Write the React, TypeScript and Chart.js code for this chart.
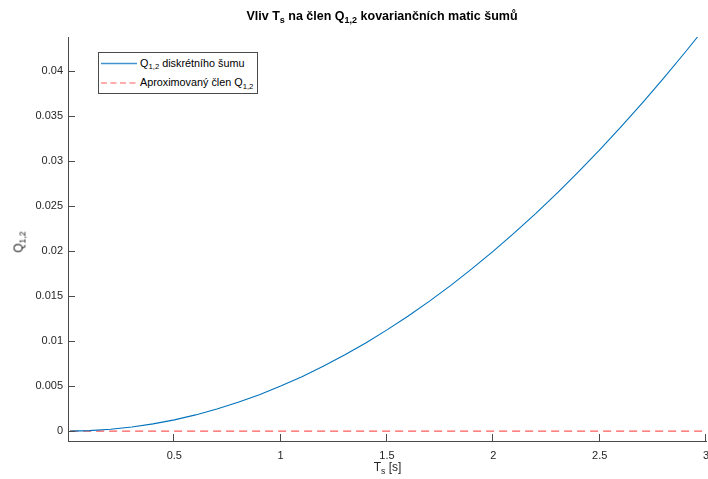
import React, { useEffect, useRef } from 'react';
import { Chart, registerables } from 'chart.js';

Chart.register(...registerables);

// ---- data ----
const tsValues = [
  0.01, 0.1, 0.2, 0.3, 0.4, 0.5, 0.6, 0.7, 0.8, 0.9, 1.0,
  1.1, 1.2, 1.3, 1.4, 1.5, 1.6, 1.7, 1.8, 1.9, 2.0,
  2.1, 2.2, 2.3, 2.4, 2.5, 2.6, 2.7, 2.8, 2.9, 2.96,
];
const q12Values = [
  0.0000005, 0.00005, 0.0002, 0.00045, 0.0008, 0.00125, 0.0018, 0.00245, 0.0032, 0.00405, 0.005,
  0.00605, 0.0072, 0.00845, 0.0098, 0.01125, 0.0128, 0.01445, 0.0162, 0.01805, 0.02,
  0.02205, 0.0242, 0.02645, 0.0288, 0.03125, 0.0338, 0.03645, 0.0392, 0.04205, 0.0438,
];
const approxTs = [0.01, 3];
const approxValues = [0, 0];

const xTickValues = [0.5, 1, 1.5, 2, 2.5, 3];
const xTickLabels = ['0.5', '1', '1.5', '2', '2.5', '3'];
const yTickValues = [0, 0.005, 0.01, 0.015, 0.02, 0.025, 0.03, 0.035, 0.04];
const yTickLabels = ['0', '0.005', '0.01', '0.015', '0.02', '0.025', '0.03', '0.035', '0.04'];

const seriesLabels = ['Q1,2 diskrétního šumu', 'Aproximovaný člen Q1,2'];

const X_MIN = 0;
const X_MAX = 3;
const Y_MIN = -0.0011;
const Y_MAX = 0.0438;

const FONT = '"Liberation Sans", Arial, Helvetica, sans-serif';
const AXIS_COLOR = '#4a4a4a';
const TEXT_COLOR = '#262626';
const BLUE = '#0072BD';
const RED = '#ff5a5a';

const inwardTicks = {
  id: 'inwardTicks',
  afterDraw(chart: any) {
    const { ctx, chartArea, scales } = chart;
    ctx.save();
    ctx.strokeStyle = AXIS_COLOR;
    ctx.lineWidth = 1;
    ctx.beginPath();
    for (const v of xTickValues) {
      const px = Math.round(scales.x.getPixelForValue(v)) - 0.5;
      ctx.moveTo(px, chartArea.bottom);
      ctx.lineTo(px, chartArea.bottom - 7);
    }
    for (const v of yTickValues) {
      const py = Math.round(scales.y.getPixelForValue(v)) + 0.5;
      ctx.moveTo(chartArea.left, py);
      ctx.lineTo(chartArea.left + 7, py);
    }
    ctx.stroke();
    ctx.restore();
  },
};

const subStyle: React.CSSProperties = {
  fontSize: '0.72em',
  position: 'relative',
  top: '0.38em',
};

export default function App() {
  const canvasRef = useRef<HTMLCanvasElement | null>(null);

  useEffect(() => {
    if (!canvasRef.current) return;
    const chart = new Chart(canvasRef.current, {
      type: 'line',
      data: {
        datasets: [
          {
            label: seriesLabels[0],
            data: tsValues.map((t, i) => ({ x: t, y: q12Values[i] })),
            borderColor: BLUE,
            borderWidth: 1.1,
            pointRadius: 0,
            fill: false,
            tension: 0,
          },
          {
            label: seriesLabels[1],
            data: approxTs.map((t, i) => ({ x: t, y: approxValues[i] })),
            borderColor: RED,
            borderWidth: 1.2,
            borderDash: [8, 5],
            pointRadius: 0,
            fill: false,
            tension: 0,
          },
        ],
      },
      options: {
        responsive: false,
        maintainAspectRatio: false,
        devicePixelRatio: 1,
        animation: false,
        layout: { padding: { left: 0, top: 37, right: 2, bottom: 0 } },
        plugins: {
          legend: { display: false },
          title: { display: false },
          tooltip: { enabled: false },
        },
        scales: {
          x: {
            type: 'linear',
            min: X_MIN,
            max: X_MAX,
            grid: { display: false, drawTicks: false },
            border: { display: true, color: AXIS_COLOR, width: 1 },
            afterBuildTicks: (s: any) => {
              s.ticks = xTickValues.map((v) => ({ value: v }));
            },
            afterFit: (s: any) => {
              s.height = 38;
              s.paddingLeft = 0;
              s.paddingRight = 0;
            },
            ticks: {
              padding: 8,
              maxRotation: 0,
              autoSkip: false,
              color: TEXT_COLOR,
              font: { family: FONT, size: 11 },
              callback: (v: any) => {
                const i = xTickValues.indexOf(Number(v));
                return i >= 0 ? xTickLabels[i] : '';
              },
            },
          },
          y: {
            type: 'linear',
            min: Y_MIN,
            max: Y_MAX,
            grid: { display: false, drawTicks: false },
            border: { display: true, color: AXIS_COLOR, width: 1 },
            afterBuildTicks: (s: any) => {
              s.ticks = yTickValues.map((v) => ({ value: v }));
            },
            afterFit: (s: any) => {
              s.width = 68;
              s.paddingTop = 0;
              s.paddingBottom = 0;
            },
            ticks: {
              padding: 5,
              autoSkip: false,
              color: TEXT_COLOR,
              font: { family: FONT, size: 11 },
              callback: (v: any) => {
                const i = yTickValues.indexOf(Number(v));
                return i >= 0 ? yTickLabels[i] : '';
              },
            },
          },
        },
      },
      plugins: [inwardTicks],
    } as any);
    return () => chart.destroy();
  }, []);

  return (
    <div
      style={{
        position: 'fixed',
        left: 0,
        top: 0,
        width: 708,
        height: 479,
        background: '#ffffff',
        overflow: 'hidden',
        fontFamily: FONT,
        color: TEXT_COLOR,
      }}
    >
      <canvas
        ref={canvasRef}
        width={708}
        height={479}
        style={{ display: 'block', width: 708, height: 479 }}
      />
      {/* title */}
      <div
        style={{
          position: 'absolute',
          left: 382,
          top: 10,
          transform: 'translateX(-50%)',
          whiteSpace: 'nowrap',
          fontWeight: 'bold',
          fontSize: 12.5,
          lineHeight: '13px',
          color: '#000',
        }}
      >
        Vliv T<span style={subStyle}>s</span> na člen Q<span style={subStyle}>1,2</span> kovariančních matic šumů
      </div>
      {/* x label */}
      <div
        style={{
          position: 'absolute',
          left: 387.5,
          top: 461,
          transform: 'translateX(-50%)',
          whiteSpace: 'nowrap',
          fontSize: 12,
          lineHeight: '12px',
        }}
      >
        T<span style={subStyle}>s</span> [s]
      </div>
      {/* y label */}
      <div
        style={{
          position: 'absolute',
          left: 18.5,
          top: 242,
          transform: 'translate(-50%, -50%) rotate(-90deg)',
          whiteSpace: 'nowrap',
          fontSize: 12,
          lineHeight: '12px',
          fontWeight: 'normal',
        }}
      >
        Q<span style={subStyle}>1,2</span>
      </div>
      {/* legend */}
      <div
        style={{
          position: 'absolute',
          left: 98,
          top: 52,
          width: 158,
          height: 40,
          border: `1px solid ${AXIS_COLOR}`,
          background: '#fff',
        }}
      />
      <svg
        width={44}
        height={30}
        style={{ position: 'absolute', left: 97, top: 58, pointerEvents: 'none' }}
      >
        <line x1={4} y1={5.5} x2={40} y2={5.5} stroke={BLUE} strokeOpacity={0.75} strokeWidth={1.4} />
        <line
          x1={4}
          y1={25}
          x2={40}
          y2={25}
          stroke={RED}
          strokeWidth={1.2}
          strokeDasharray="6 3.5"
        />
      </svg>
      <div
        style={{
          position: 'absolute',
          left: 140,
          top: 57.5,
          whiteSpace: 'nowrap',
          fontSize: 10.8,
          lineHeight: '11px',
          color: '#000',
        }}
      >
        Q<span style={subStyle}>1,2</span> diskrétního šumu
      </div>
      <div
        style={{
          position: 'absolute',
          left: 140,
          top: 77,
          whiteSpace: 'nowrap',
          fontSize: 10.8,
          lineHeight: '11px',
          color: '#000',
        }}
      >
        Aproximovaný člen Q<span style={subStyle}>1,2</span>
      </div>
    </div>
  );
}
